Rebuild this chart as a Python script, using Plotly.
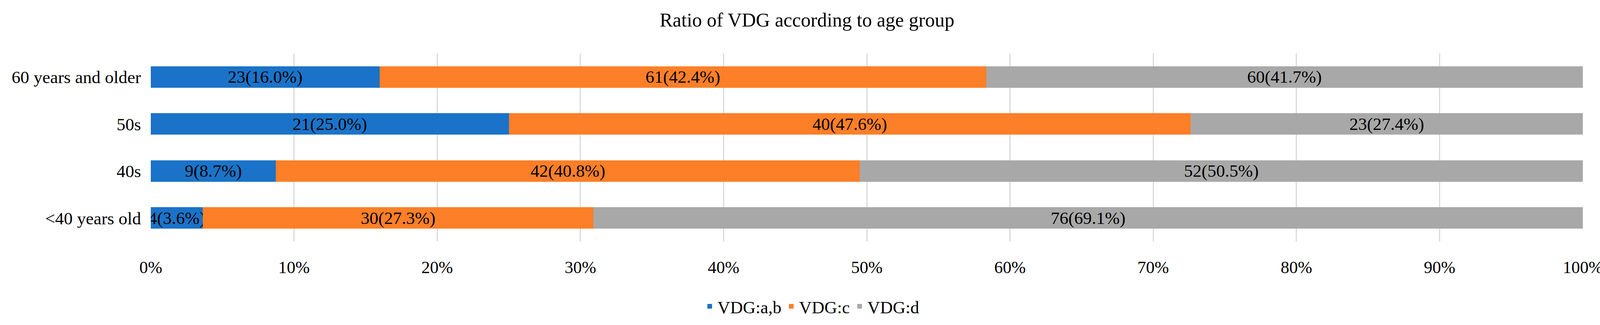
import plotly.graph_objects as go

categories = ["<40 years old", "40s", "50s", "60 years and older"]
series_names = ["VDG:a,b", "VDG:c", "VDG:d"]
counts_ab = [4, 9, 21, 23]
counts_c = [30, 42, 40, 61]
counts_d = [76, 52, 23, 60]
pct_ab = [3.6, 8.7, 25.0, 16.0]
pct_c = [27.3, 40.8, 47.6, 42.4]
pct_d = [69.1, 50.5, 27.4, 41.7]
colors = ["#1a73c8", "#fd7f27", "#a8a8a8"]
x_ticks = [0, 10, 20, 30, 40, 50, 60, 70, 80, 90, 100]
x_tick_labels = ["0%", "10%", "20%", "30%", "40%", "50%", "60%", "70%", "80%", "90%", "100%"]

FONT = "Liberation Serif"
FS = 45

fig = go.Figure()
for name, cnt, pct, col in zip(series_names, [counts_ab, counts_c, counts_d],
                               [pct_ab, pct_c, pct_d], colors):
    fig.add_trace(go.Bar(
        y=categories, x=cnt, name=name, orientation="h",
        marker=dict(color=col, line=dict(width=0)),
        text=[f"{c}({p:.1f}%)" for c, p in zip(cnt, pct)],
        textposition="inside", insidetextanchor="middle",
        textfont=dict(family=FONT, size=FS, color="black"),
        constraintext="none",
    ))

fig.update_layout(
    barmode="stack", barnorm="percent", bargap=0.54,
    width=4132, height=833,
    margin=dict(l=386, r=80, t=137, b=208),
    paper_bgcolor="white", plot_bgcolor="white",
    font=dict(family=FONT, size=FS, color="black"),
    title=dict(text="Ratio of VDG according to age group", x=0.5, xanchor="center",
               y=1 - 50 / 833, yanchor="middle", font=dict(family=FONT, size=50)),
    uniformtext=dict(minsize=FS, mode="show"),
    legend=dict(orientation="h", x=0.4615, xanchor="center",
                y=-0.345, yanchor="middle",
                font=dict(family=FONT, size=FS), traceorder="normal",
                itemwidth=30, tracegroupgap=0),
    showlegend=True,
)
fig.update_xaxes(range=[0, 100], tickvals=x_ticks, ticktext=x_tick_labels, showgrid=True,
                 gridcolor="#d9d9d9", gridwidth=3, zeroline=False, showline=False,
                 ticks="", ticklabelstandoff=36, tickfont=dict(family=FONT, size=44))
fig.update_yaxes(categoryorder="array", categoryarray=categories, showgrid=False,
                 showline=False, ticks="", ticklabelstandoff=24,
                 tickfont=dict(family=FONT, size=FS))

fig.write_html(
    "out.html",
    config={"displayModeBar": False},
    post_script="document.body.style.margin='0';document.body.style.overflow='hidden';",
)
